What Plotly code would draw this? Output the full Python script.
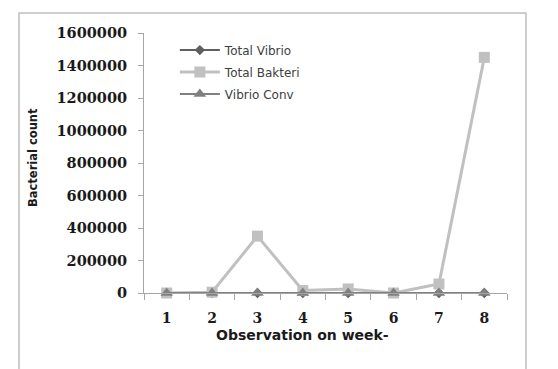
import plotly.graph_objects as go

weeks = ["1", "2", "3", "4", "5", "6", "7", "8"]
total_vibrio = [0, 0, 0, 0, 0, 0, 0, 0]
total_bakteri = [0, 5000, 350000, 15000, 25000, 0, 55000, 1450000]
vibrio_conv = [0, 0, 0, 0, 0, 0, 0, 0]
y_ticks = [0, 200000, 400000, 600000, 800000, 1000000, 1200000, 1400000, 1600000]

fig = go.Figure()
fig.add_trace(go.Scatter(
    x=weeks, y=total_vibrio, name="Total Vibrio", mode="lines+markers",
    line=dict(color="#5f5f5f", width=2),
    marker=dict(symbol="diamond", size=8, color="#5f5f5f"),
    legendgroup="a", cliponaxis=False))
fig.add_trace(go.Scatter(
    x=weeks, y=total_bakteri, name="Total Bakteri", mode="lines+markers",
    line=dict(color="#c0c0c0", width=3),
    marker=dict(symbol="square", size=11, color="#c0c0c0"),
    legendgroup="b", cliponaxis=False))
fig.add_trace(go.Scatter(
    x=weeks, y=vibrio_conv, name="Vibrio Conv", mode="lines+markers",
    line=dict(color="#808080", width=2),
    marker=dict(symbol="triangle-up", size=11, color="#808080"),
    legendgroup="c", cliponaxis=False))

axis_gray = "#a6a6a6"
fig.update_layout(
    width=558, height=369,
    margin=dict(l=136, r=59, t=25, b=84),
    paper_bgcolor="white", plot_bgcolor="white",
    showlegend=True,
    legend=dict(x=0.085, y=0.99, xanchor="left", yanchor="top",
                font=dict(family="DejaVu Sans", size=12, color="#404040"),
                bgcolor="rgba(0,0,0,0)", tracegroupgap=3, itemwidth=40),
    xaxis=dict(type="category", range=[-0.5, 7.5], tickson="boundaries",
               ticks="outside", ticklen=6, tickcolor=axis_gray,
               showline=True, linecolor=axis_gray, linewidth=1,
               showgrid=False, zeroline=False,
               tickfont=dict(family="DejaVu Serif", size=14, color="#1a1a1a", weight="bold"),
               ticklabelstandoff=12),
    yaxis=dict(range=[0, 1600000], tickvals=y_ticks,
               ticktext=[str(v) for v in y_ticks],
               ticks="outside", ticklen=5, tickcolor=axis_gray,
               showline=True, linecolor=axis_gray, linewidth=1,
               showgrid=False, zeroline=False,
               tickfont=dict(family="DejaVu Serif", size=14.5, color="#1a1a1a", weight="bold"),
               ticklabelstandoff=8),
    annotations=[
        dict(text="Observation on week-", xref="paper", yref="paper",
             x=(302 - 144) / 363, y=(293 - 335) / 260, xanchor="center", yanchor="middle",
             showarrow=False,
             font=dict(family="DejaVu Sans", size=14, color="#1a1a1a", weight="bold")),
        dict(text="Bacterial count", xref="paper", yref="paper",
             x=(33 - 144) / 363, y=(293 - 158) / 260, xanchor="center", yanchor="middle",
             textangle=-90, showarrow=False,
             font=dict(family="DejaVu Sans", size=11.5, color="#1a1a1a", weight="bold")),
    ],
    shapes=[
        dict(type="rect", xref="paper", yref="paper",
             x0=(19 - 144) / 363, x1=(526 - 144) / 363,
             y0=(293 - 390) / 260, y1=(293 - 13) / 260,
             line=dict(color="#bfbfbf", width=1.5), fillcolor="rgba(0,0,0,0)", layer="below"),
    ],
)

fig.write_html("out.html")
